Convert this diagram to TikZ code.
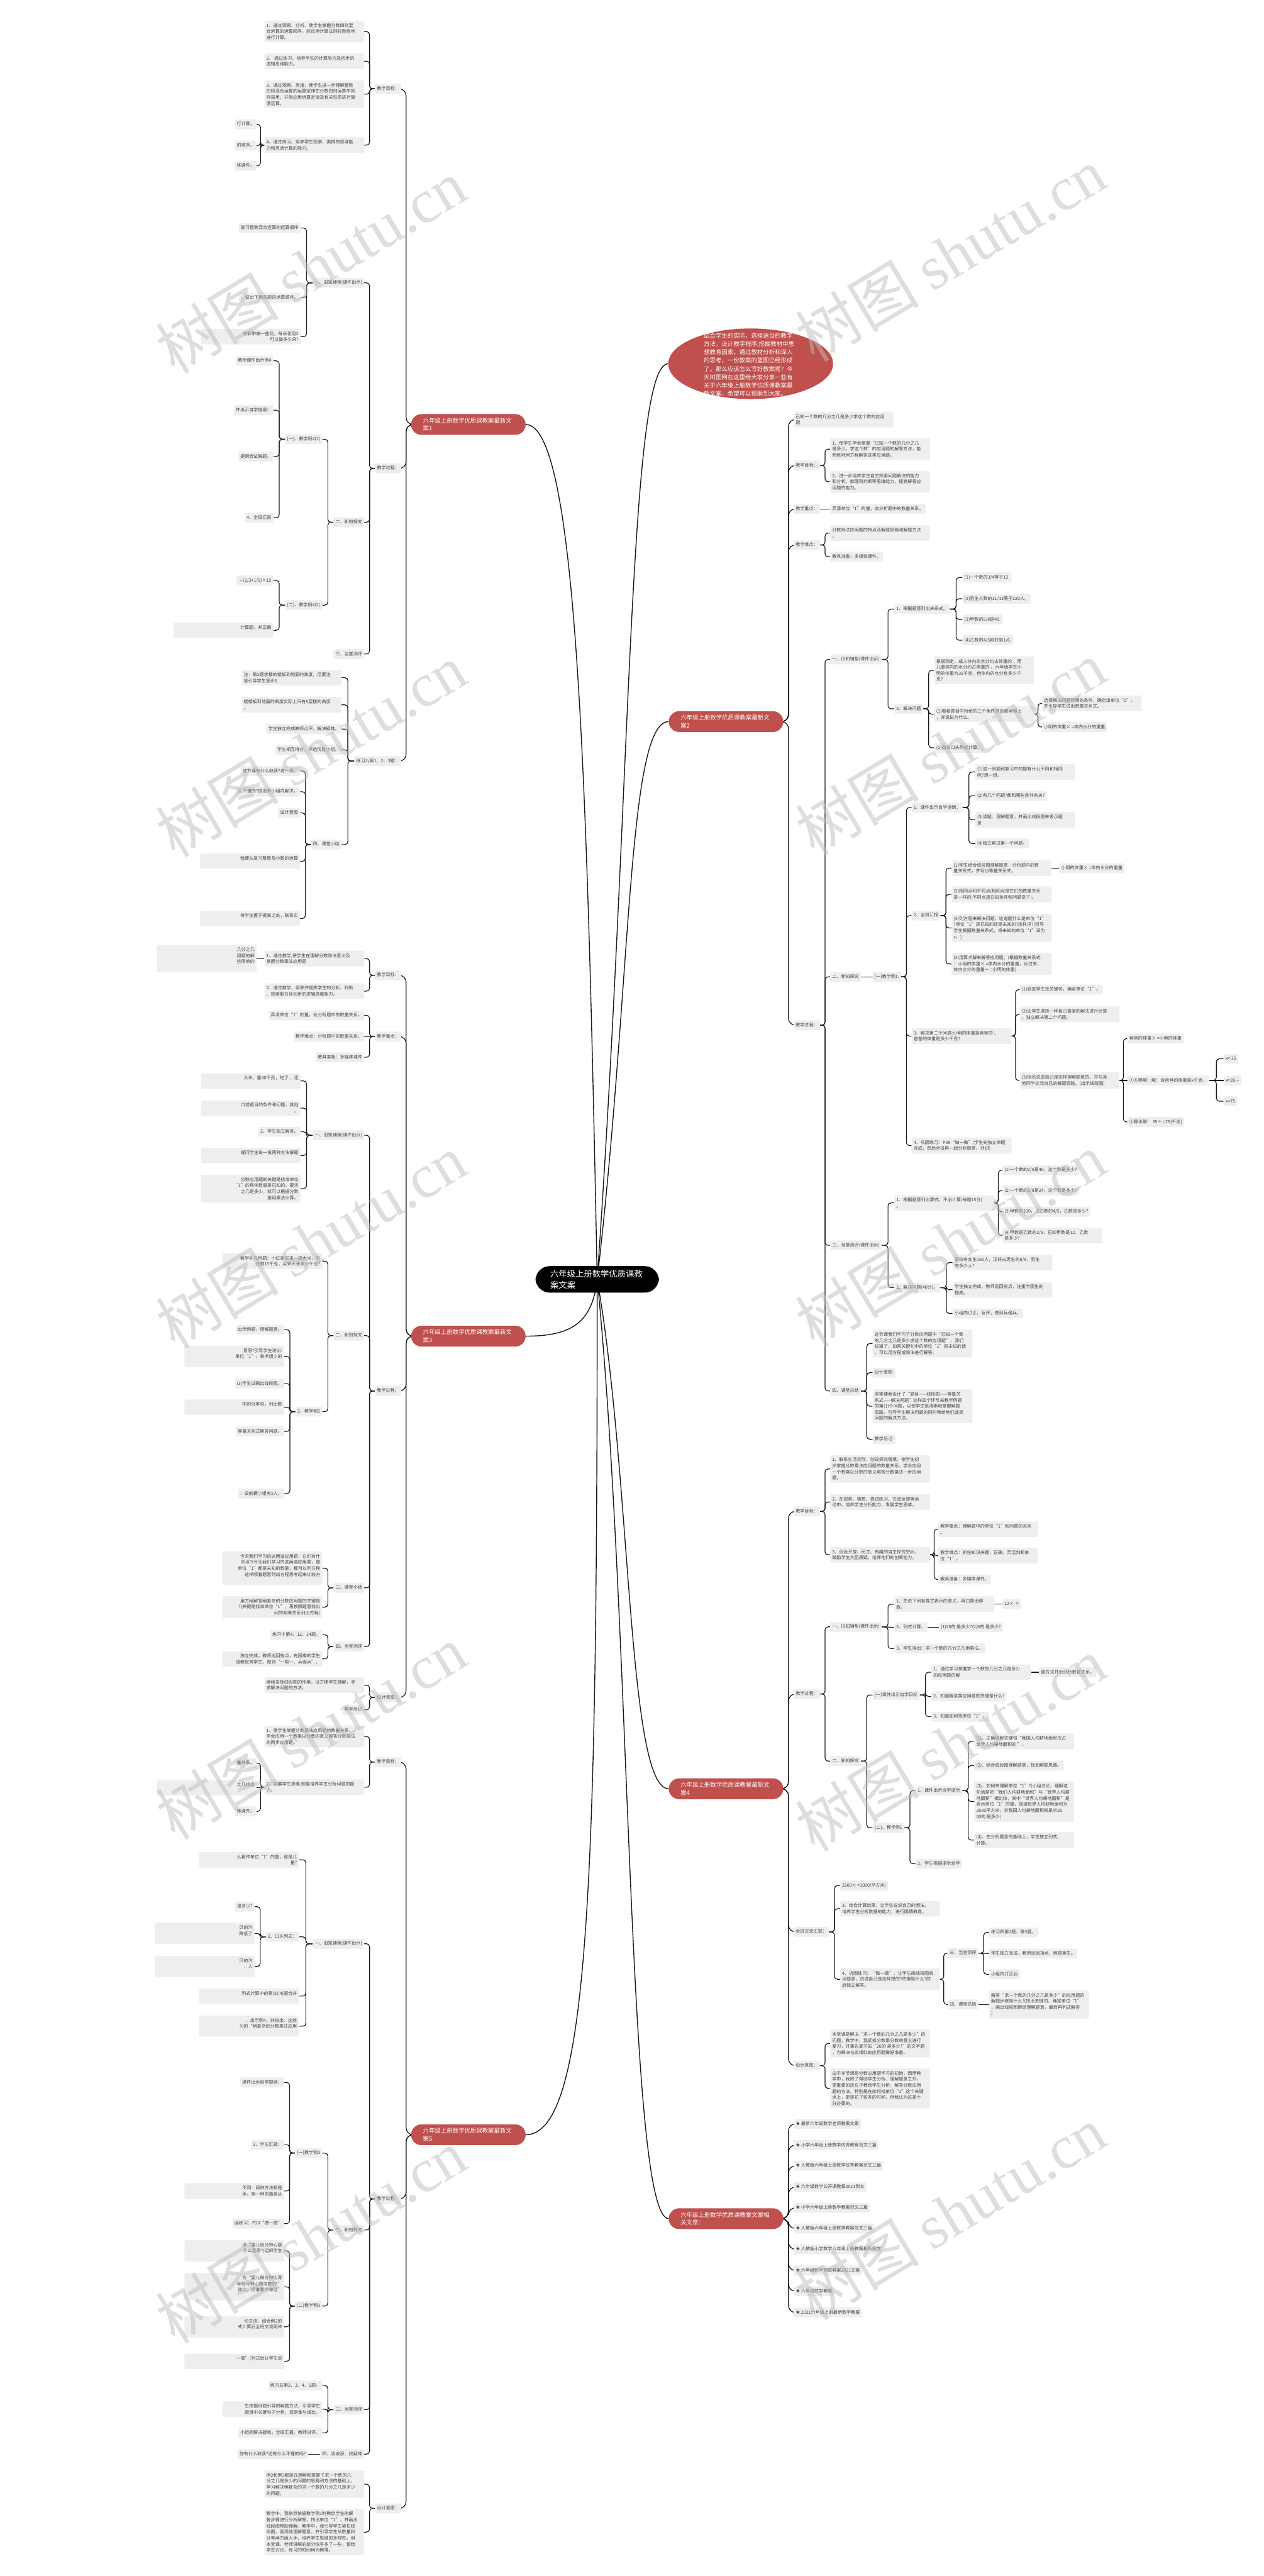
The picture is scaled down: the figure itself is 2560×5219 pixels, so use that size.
\documentclass[tikz,border=0pt]{standalone}
\usepackage{fontspec}
\setmainfont{Noto Sans CJK SC}
\newfontfamily\wmserif{Liberation Serif}
\XeTeXlinebreaklocale "zh"
\XeTeXlinebreakskip=0pt plus 1pt
\usetikzlibrary{calc,backgrounds,shapes.geometric}
\definecolor{boxgray}{RGB}{238,238,238}
\definecolor{txt}{RGB}{64,64,64}
\definecolor{redn}{RGB}{192,80,77}
\definecolor{linec}{RGB}{25,25,25}
\definecolor{wm}{RGB}{190,190,190}
\newcommand\fsz{\fontsize{9}{12.3}\selectfont}
\tikzset{
  base/.style={fill=boxgray, rounded corners=3pt, text=txt, font=\fsz, inner xsep=4pt, inner ysep=5.5pt},
  sn/.style={base, text height=7.2pt, text depth=1.8pt},
  wn/.style={base, text width=194pt, align=flush left},
  pw/.style={base, text width=194pt, align=flush right},
  L/.style={anchor=east}, R/.style={anchor=west},
  rednode/.style={fill=redn, text=white, rounded corners=21pt, font=\fontsize{12}{16}\selectfont, text width=184pt, align=flush left, inner xsep=24pt, inner ysep=7.5pt},
  ln/.style={draw=linec, line width=1.5pt, rounded corners=6pt},
  ln1/.style={draw=linec, line width=1.6pt, rounded corners=14pt},
  cl/.style={draw=linec, line width=1.8pt},
  lk/.style={to path={-- ($(\tikztostart)!0.5!(\tikztostart -| \tikztotarget)$) |- (\tikztotarget)}},
  wmk/.style={text=wm, opacity=0.5, rotate=31, inner sep=0pt},
}
\newcommand\eL[2]{\foreach \nd in {#2}{\draw[ln] (#1.west) to[lk] (\nd.east);}}
\newcommand\eR[2]{\foreach \nd in {#2}{\draw[ln] (#1.east) to[lk] (\nd.west);}}
\newcommand\eLa[2]{\foreach \nd in {#2}{\draw[ln1] (#1.west) to[lk] (\nd.east);}}
\newcommand\eRa[2]{\foreach \nd in {#2}{\draw[ln1] (#1.east) to[lk] (\nd.west);}}
\begin{document}
\begin{tikzpicture}[x=1pt,y=-1pt]
\useasboundingbox (0,0) rectangle (2560,5219);
% ---------- center and main branches
\node[fill=black,text=white,rounded corners=29pt,font=\fontsize{17}{22}\selectfont,text width=190pt,align=flush left,inner xsep=30pt,inner ysep=8pt] (C) at (1210,2592) {六年级上册数学优质课教\\案文案};
\node[rednode] (L1) at (949,860) {六年级上册数学优质课教案最新文案1};
\node[rednode] (L3) at (949,2707) {六年级上册数学优质课教案最新文案3};
\node[rednode] (L5) at (949,4325) {六年级上册数学优质课教案最新文案5};
\node[rednode] (R2) at (1471,1462) {六年级上册数学优质课教案最新文案2};
\node[rednode] (R4) at (1471,3624) {六年级上册数学优质课教案最新文案4};
\node[rednode] (Rel) at (1471,4495) {六年级上册数学优质课教案文案相关文章：};
\node[ellipse, fill=redn, minimum width=334pt, minimum height=143pt, inner sep=0pt] (intro) at (1521,737) {};
\node[text=white, font=\fontsize{12}{16.7}\selectfont, text width=186pt, align=flush left, inner sep=0pt] (introt) at (1519,739) {结合学生的实际，选择适当的教学\\方法，设计教学程序;挖掘教材中思\\想教育因素。通过教材分析和深入\\的思考，一份教案的蓝图已经形成\\了。那么应该怎么写好教案呢？今\\天树图网在这里给大家分享一些有\\关于六年级上册数学优质课教案最\\新文案，希望可以帮助到大家。};

% ---------- 案1
\node[sn,L] (a1) at (813,180) {教学目标：};
\node[wn,L] (a11) at (738,64) {1、通过观察、分析、使学生掌握分数四则混\\合运算的运算顺序，能应用计算法则较熟练地\\进行计算。};
\node[wn,L] (a12) at (738,124) {2、 通过练习，培养学生的计算能力及初步的\\逻辑思维能力。};
\node[wn,L] (a13) at (738,191) {3、通过观察、类推，使学生进一步理解整数\\四则混合运算的运算定律在分数四则运算中同\\样适用，并能应用运算定律及有关性质进行简\\便运算。};
\node[wn,L] (a14) at (738,294) {4、通过练习，培养学生观察、类推的思维能\\力和灵活计算的能力。};
\node[sn,L] (a141) at (520,252) {行计算。};
\node[sn,L] (a142) at (520,295) {的顺序。};
\node[sn,L] (a143) at (520,336) {体课件。};
\node[sn,L] (a2) at (813,949) {教学过程：};
\node[sn,L] (a21) at (738,573) {一、旧知铺垫(课件出示)};
\node[sn,L] (a211) at (609,462) {复习整数混合运算的运算顺序};
\node[sn,L] (a212) at (609,603) {、说出下面各题的运算顺序。};
\node[pw,L] (a213) at (609,682) {的彩带做一些花，每朵花用2\\可以做多少朵?};
\node[sn,L] (a22) at (738,1058) {二、新知探究};
\node[sn,L] (a221) at (653,890) {(一)、教学例4(1)};
\node[sn,L] (a2211) at (554,731) {教师课件出示例4};
\node[sn,L] (a2212) at (554,831) {件出示自学提纲：};
\node[sn,L] (a2213) at (554,925) {提纲尝试解题。};
\node[sn,L] (a2214) at (554,1049) {4、全班汇报};
\node[sn,L] (a222) at (653,1226) {(二)、教学例4(2)};
\node[sn,L] (a2221) at (554,1176) {÷(2/3+1/5)×15};
\node[pw,L] (a2222) at (554,1277) {计算题，并正确\\\mbox{}};
\node[sn,L] (a23) at (738,1325) {三、当堂测评};
\node[sn,L] (a3) at (813,1542) {练习九第1、2、3题：};
\node[wn,L] (a31) at (692,1373) {注：第2题求楼的楼板到地面的高度，但要注\\意引导学生意识6};
\node[wn,L] (a32) at (692,1428) {楼楼板到地面的高度实际上只有5层楼的高度\\。};
\node[sn,L] (a33) at (692,1477) {学生独立完成教师点评，解决疑难。};
\node[sn,L] (a34) at (692,1519) {学生相互得分，评选优胜小组。};
\node[sn,L] (a35) at (692,1711) {四、课堂小结};
\node[sn,L] (a351) at (608,1562) {这节课有什么收获?说一说。};
\node[sn,L] (a352) at (608,1604) {么不懂的?提出来小组内解决。};
\node[sn,L] (a353) at (608,1647) {设计意图};
\node[pw,L] (a354) at (608,1745) {我便从复习整数及小数的运算\\\mbox{}};
\node[pw,L] (a355) at (608,1861) {将学生置于提高之处，联系实\\\mbox{}};

% ---------- 案3
\node[sn,L] (b1) at (813,1976) {教学目标：};
\node[wn,L] (b11) at (738,1942) {1、通过教学,使学生在理解分数除法意义及\\掌握分数乘法应用题};
\node[pw,L] (b111) at (520,1942) {几分之几\\用题的解\\些简单的\\\mbox{}};
\node[wn,L] (b12) at (738,2008) {2、通过教学，培养并提高学生的分析、判断\\、探索能力及初步的逻辑思维能力。};
\node[sn,L] (b2) at (813,2100) {教学重点：};
\node[sn,L] (b21) at (738,2057) {弄清单位“1”的量，会分析题中的数量关系。};
\node[sn,L] (b22) at (738,2100) {教学难点：分析题中的数量关系。};
\node[sn,L] (b23) at (738,2142) {教具准备：多媒体课件};
\node[sn,L] (b3) at (813,2818) {教学过程：};
\node[sn,L] (b31) at (738,2300) {一、旧知铺垫(课件出示)};
\node[pw,L] (b311) at (609,2190) {大米，重40千克，吃了 ，还\\\mbox{}};
\node[pw,L] (b312) at (609,2245) {口述题目的条件和问题，其他\\。};
\node[sn,L] (b313) at (609,2293) {2、学生独立解答。};
\node[pw,L] (b314) at (609,2341) {提问学生说一说两种方法解题\\\mbox{}};
\node[pw,L] (b315) at (609,2408) {分数应用题的关键是找准单位\\“1”的具体数量是已知的。要求\\之几是多少，就可以根据分数\\接用乘法计算。};
\node[sn,L] (b32) at (738,2706) {二、新知探究};
\node[pw,L] (b321) at (653,2555) {教学补充例题：小红家买来一袋大米，吃\\还剩15千克，买来大米多少千克?};
\node[sn,L] (b322) at (653,2860) {2、教学例2};
\node[sn,L] (b3221) at (576,2694) {出示例题，理解题意。};
\node[pw,L] (b3222) at (576,2748) {意思?引导学生说出:\\单位“1”，美术组少的\\\mbox{}};
\node[sn,L] (b3223) at (576,2803) {(3)学生试画出线段图。};
\node[pw,L] (b3224) at (576,2851) {中的分率句，列出数\\\mbox{}};
\node[sn,L] (b3225) at (576,2900) {等量关系式解答问题。};
\node[sn,L] (b3226) at (576,3026) {：设航模小组有x人。};
\node[sn,L] (b33) at (738,3217) {三、课堂小结};
\node[pw,L] (b331) at (653,3177) {今天我们学习的这两道应用题，它们有什\\同点?(今天我们学习的这两道应用题，题\\单位“1”都是未知的数量，都可以列方程\\这样顺着题意列出方程思考起来比较方\\\mbox{}};
\node[pw,L] (b332) at (653,3256) {用方程解答稍复杂的分数应用题的关键是\\?(关键是找准单位“1”，再按照题意找出\\间的相等关系列出方程)};
\node[sn,L] (b34) at (738,3336) {四、当堂测评};
\node[sn,L] (b341) at (653,3312) {练习十第4、12、14题。};
\node[pw,L] (b342) at (653,3361) {独立完成，教师巡回指点，有困难的学生\\请教优秀学生，做到“一帮一、兵强兵”。};
\node[sn,L] (b4) at (813,3439) {设计意图：};
\node[wn,L] (b41) at (738,3414) {继续发挥线段图的作用，以方便学生理解，寻\\求解决问题的方法。};
\node[sn,L] (b42) at (738,3464) {教学后记};

% ---------- 案5
\node[sn,L] (c1) at (813,3570) {教学目标：};
\node[wn,L] (c11) at (738,3518) {1、使学生掌握分数乘法应用题的数量关系，\\学会应用一个数乘以分数的意义解答分数乘法\\的两步应用题。};
\node[wn,L] (c12) at (738,3621) {2、发展学生思维,侧重培养学生分析问题的能\\力。};
\node[sn,L] (c121) at (520,3572) {量关系。};
\node[pw,L] (c122) at (520,3622) {之几找出\\\mbox{}};
\node[sn,L] (c123) at (520,3670) {体课件。};
\node[sn,L] (c2) at (813,4455) {教学过程：};
\node[sn,L] (c21) at (738,3938) {一、旧知铺垫(课件出示)};
\node[pw,L] (c211) at (606,3768) {么看作单位“1”的量，谁是几\\量?};
\node[sn,L] (c212) at (606,3924) {2、口头列式：};
\node[sn,L] (c2121) at (516,3863) {是多少?};
\node[pw,L] (c2122) at (516,3917) {贝的汽\\降低了\\\mbox{}};
\node[pw,L] (c2123) at (516,3984) {贝的汽\\，人\\\mbox{}};
\node[pw,L] (c213) at (606,4044) {列式计算中的第(3)(4)题合并\\\mbox{}};
\node[pw,L] (c214) at (606,4105) {，出示例4，并指出：这就\\习的“稍复杂的分数乘法应用\\\mbox{}};
\node[sn,L] (c22) at (738,4518) {二、新知探究};
\node[sn,L] (c221) at (653,4362) {(一)教学例2};
\node[sn,L] (c2211) at (576,4219) {课件出示自学提纲：};
\node[sn,L] (c2212) at (576,4345) {2、学生汇报：};
\node[pw,L] (c2213) at (576,4439) {不同：两种方法都是\\手。第一种思路是从};
\node[sn,L] (c2214) at (576,4505) {固练习：P20“做一做”};
\node[sn,L] (c222) at (653,4672) {(二)教学例3};
\node[pw,L] (c2221) at (576,4560) {出“婴儿每分钟心跳\\什么意思?(组织学生\\\mbox{}};
\node[pw,L] (c2222) at (576,4633) {为“婴儿每分钟比青\\年每分钟心跳次数的 ”\\谁比，把谁看作单位”\\\mbox{}};
\node[pw,L] (c2223) at (576,4714) {论交流，结合例2的\\式计算后全班交流两种\\\mbox{}};
\node[pw,L] (c2224) at (576,4784) {一做”(列式后让学生说\\\mbox{}};
\node[sn,L] (c23) at (738,4882) {三、当堂测评};
\node[sn,L] (c231) at (653,4833) {练习五第2、3、4、5题。};
\node[pw,L] (c232) at (653,4881) {生依据例题引导的解题方法，引导学生\\题目中关键句子分析，找到谁与谁比。};
\node[sn,L] (c233) at (653,4929) {小组间解决疑难，全班汇报，教师讲评。};
\node[sn,L] (c24) at (738,4972) {四、谈收获、找疑难};
\node[sn,L] (c241) at (624,4972) {你有什么收获?还有什么不懂的吗?};
\node[sn,L] (c3) at (813,5082) {设计意图：};
\node[wn,L] (c31) at (738,5033) {例2和例3都是在理解和掌握了求一个数的几\\分之几是多少的问题的思路和方法的基础上，\\学习解决稍复杂的求一个数的几分之几是多少\\的问题。};
\node[wn,L] (c32) at (738,5130) {教学中，我依然依据教学例1时教给学生的解\\答步骤进行分析解答，找出单位“1”，并画出\\线段图帮助理解。教学中，我引导学生紧扣线\\段图，直观地理解题意，并引导学生从数量和\\分率两方面入手，培养学生思维的多样性。但\\本堂课，老师讲解的部分似乎多了一些，留给\\学生讨论、练习的时间稍为稀薄。};

% ---------- 案2
\node[wn,R] (r0) at (1608,850) {已知一个数的几分之几是多少求这个数的应用\\题};
\node[sn,R] (r1) at (1608,943) {教学目标：};
\node[wn,R] (r11) at (1682,910) {1、使学生学会掌握“已知一个数的几分之几\\是多少，求这个数”的应用题的解答方法，能\\熟练地列方程解答这类应用题。};
\node[wn,R] (r12) at (1682,976) {2、进一步培养学生自主探索问题解决的能力\\和分析、推理和判断等思维能力，提高解答应\\用题的能力。};
\node[sn,R] (r2) at (1608,1031) {教学重点：};
\node[sn,R] (r21) at (1682,1031) {弄清单位“1”的量，会分析题中的数量关系。};
\node[sn,R] (r3) at (1608,1104) {教学难点：};
\node[wn,R] (r31) at (1682,1080) {分数除法应用题的特点及解题思路和解题方法\\。};
\node[sn,R] (r32) at (1682,1128) {教具准备：多媒体课件。};
\node[sn,R] (r4) at (1608,2077) {教学过程：};
\node[sn,R] (r41) at (1682,1336) {一、旧知铺垫(课件出示)};
\node[sn,R] (r411) at (1812,1234) {1、根据题意列出关系式。};
\node[sn,R] (r4111) at (1950,1170) {(1)一个数的3/4等于12.};
\node[sn,R] (r4112) at (1950,1213) {(2)男生人数的11/12等于220人。};
\node[sn,R] (r4113) at (1950,1255) {(3)甲数的5/8是40.};
\node[sn,R] (r4114) at (1950,1297) {(4)乙数的4/5刚好是1/6.};
\node[sn,R] (r412) at (1812,1436) {2、解决问题};
\node[wn,R] (r4121) at (1893,1358) {根据测定，成人体内的水分约占体重的 ，而\\儿童体内的水分约占体重的 ，六年级学生小\\明的体重为35千克，他体内的水分有多少千\\克?};
\node[wn,R] (r4122) at (1893,1447) {(1)看看题目中所给的三个条件是否都用得上\\，并说说为什么。};
\node[wn,R] (r41221) at (2111,1425) {选择解决问题所需的条件，确定出单位“1”，\\并引导学生说出数量关系式。};
\node[sn,R] (r41222) at (2111,1473) {小明的体重× =体内水分的重量};
\node[sn,R] (r4123) at (1893,1515) {(2)指名口头列式计算。};
\node[sn,R] (r42) at (1682,1979) {二、新知探究};
\node[sn,R] (r421) at (1768,1979) {(一)教学例1.};
\node[sn,R] (r4211) at (1847,1636) {1、课件出示自学提纲：};
\node[wn,R] (p1) at (1976,1564) {(1)这一例题和复习中的题有什么不同和相同\\呢?想一想。};
\node[sn,R] (p2) at (1976,1612) {(2)有几个问题?都和哪些条件有关?};
\node[wn,R] (p3) at (1976,1661) {(3)读题、理解题意，并画出线段图来表示题\\意};
\node[sn,R] (p4) at (1976,1709) {(4)独立解决第一个问题。};
\node[sn,R] (r4212) at (1847,1855) {2、全班汇报};
\node[wn,R] (q1) at (1928,1759) {(1)学生结合线段图理解题意，分析题中的数\\量关系式，并写出等量关系式。};
\node[sn,R] (q1a) at (2146,1759) {小明的体重× =体内水分的重量};
\node[wn,R] (q2) at (1928,1812) {(2)相同点和不同点(相同点是它们的数量关系\\是一样的;不同点是已知条件和问题变了)。};
\node[wn,R] (q3) at (1928,1880) {(3)列方程来解决问题。这道题什么是单位“1”\\?单位“1”是已知的还是未知的?怎样求?(引导\\学生根据数量关系式，将未知的单位“1”设为\\x。)};
\node[wn,R] (q4) at (1928,1953) {(4)用算术解来解答应用题。(根据数量关系式\\：小明的体重× =体内水分的重量，反过来，\\体内水分的重量÷ =小明的体重)};
\node[wn,R] (r4213) at (1847,2099) {3、解决第二个问题:小明的体重是爸爸的 ，\\爸爸的体重是多少千克?};
\node[sn,R] (t1) at (2066,2005) {(1)启发学生找关键句，确定单位“1”。};
\node[wn,R] (t2) at (2066,2055) {(2)让学生选择一种自己喜爱的解法进行计算\\，独立解决第二个问题。};
\node[wn,R] (t3) at (2066,2189) {(3)指名说说自己是怎样理解题意的，并与其\\他同学交流自己的解题思路。(出示线段图)};
\node[sn,R] (t31) at (2284,2104) {爸爸的体重× =小明的体重};
\node[sn,R] (t32) at (2284,2189) {①方程解：解：设爸爸的体重是x千克。};
\node[sn,R] (t321) at (2479,2145) {x= 35};
\node[sn,R] (t322) at (2479,2189) {x=35÷};
\node[sn,R] (t323) at (2479,2231) {x=75};
\node[sn,R] (t33) at (2284,2273) {②算术解： 35÷ =75(千克)};
\node[wn,R] (r4214) at (1847,2321) {4、巩固练习：P38“做一做”(学生先独立审题\\完成，然后全班再一起分析题意、评讲)};
\node[sn,R] (r43) at (1682,2523) {三、当堂测评(课件出示)};
\node[wn,R] (u1) at (1812,2437) {1、根据题意列出算式，不必计算(每题15分)\\。};
\node[sn,R] (u11) at (2031,2371) {(1)一个数的2/5是40，这个数是多少?};
\node[sn,R] (u12) at (2031,2412) {(2)一个数的3/8是24，这个数是多少?};
\node[sn,R] (u13) at (2031,2455) {(3)甲数是100，占乙数的4/5，乙数是多少?};
\node[wn,R] (u14) at (2031,2503) {(4)甲数是乙数的2/3，已知甲数是12，乙数\\是多少?};
\node[sn,R] (u2) at (1812,2609) {2、解决问题(40分)。};
\node[wn,R] (u21) at (1930,2558) {某校有女生160人，正好占男生的8/9，男生\\有多少人?};
\node[wn,R] (u22) at (1930,2613) {学生独立完成，教师巡回指点，注重学困生的\\提高。};
\node[sn,R] (u23) at (1930,2661) {小组内订正、互评，做到兵强兵。};
\node[sn,R] (r44) at (1682,2818) {四、课堂总结};
\node[wn,R] (v1) at (1768,2722) {这节课我们学习了分数应用题中“已知一个数\\的几分之几是多少求这个数的应用题”，我们\\知道了，如果关键句中的单位“1”是未知的话\\，可以用方程或除法进行解答。};
\node[sn,R] (v2) at (1768,2781) {设计意图:};
\node[wn,R] (v3) at (1768,2849) {本堂课我设计了“题目——线段图——等量关\\系式——解决问题”这样四个环节来教学例题\\的第(1)个问题，以使学生很清晰地掌握解题\\思路，引导学生解决问题的同时教给他们此类\\问题的解决方法。};
\node[sn,R] (v4) at (1768,2916) {教学后记:};

% ---------- 案4
\node[sn,R] (g1) at (1608,3062) {教学目标：};
\node[wn,R] (g11) at (1682,2976) {1、联系生活实际，创设探究情境，使学生初\\步掌握分数乘法应用题的数量关系，学会应用\\一个数乘以分数的意义解答分数乘法一步应用\\题。};
\node[wn,R] (g12) at (1682,3043) {2、在观察、猜想、尝试练习、交流反馈等活\\动中，培养学生分析能力，发展学生思维。};
\node[wn,R] (g13) at (1682,3150) {3、创设开放、民主、有趣的自主探究空间，\\鼓励学生大胆质疑，培养他们的创新能力。};
\node[wn,R] (g131) at (1901,3098) {教学重点：理解题中的单位“1”和问题的关系\\。};
\node[wn,R] (g132) at (1901,3152) {教学难点：抓住知识关键，正确、灵活判断单\\位“1”。};
\node[sn,R] (g133) at (1901,3200) {教具准备：多媒体课件。};
\node[sn,R] (g2) at (1608,3432) {教学过程：};
\node[sn,R] (g21) at (1682,3296) {一、旧知铺垫(课件出示)};
\node[wn,R] (h1) at (1812,3250) {1、先说下列各算式表示的意义，再口算出得\\数。};
\node[sn,R] (h1a) at (2031,3250) {12× ×};
\node[sn,R] (h2) at (1812,3297) {2、列式计算。};
\node[sn,R] (h2a) at (1902,3297) {(1)20的 是多少?(2)6的 是多少?};
\node[sn,R] (h3) at (1812,3340) {3、学生得出：求一个数的几分之几用乘法。};
\node[sn,R] (g22) at (1682,3568) {二、新知探究};
\node[sn,R] (i1) at (1768,3434) {(一)课件出示自学目标};
\node[wn,R] (i11) at (1887,3388) {1、通过学习掌握求一个数的几分之几是多少\\的应用题的解};
\node[sn,R] (i11a) at (2105,3388) {题方法并会分析数量关系。};
\node[sn,R] (i12) at (1887,3437) {2、知道解这类应用题的关键是什么?};
\node[sn,R] (i13) at (1887,3478) {3、知道如何找单位“1”。};
\node[sn,R] (i2) at (1768,3703) {(二)、教学例1};
\node[sn,R] (i21) at (1855,3628) {1、课件出示自学提示};
\node[wn,R] (k1) at (1974,3528) {(1)、正确理解关键句“我国人均耕地面积仅占\\世界人均耕地面积的 ”。};
\node[sn,R] (k2) at (1974,3577) {(2)、结合线段图理解题意，找到解题思路。};
\node[wn,R] (k3) at (1974,3650) {(3)、如何来理解单位“1”?(小组讨论，理解这\\句话是把“我们人均耕地面积”与“世界人均耕\\地面积”相比较，其中“世界人均耕地面积”是\\表示单位“1”的量，知道世界人均耕地面积为\\2500平方米，求我国人均耕地面积就是求25\\00的 是多少)};
\node[wn,R] (k4) at (1974,3728) {(4)、在分析题意的基础上，学生独立列式、\\计算。};
\node[sn,R] (i22) at (1855,3776) {2、学生根据提示自学};
\node[sn,R] (g3) at (1608,3914) {全班交流汇报：};
\node[sn,R] (g31) at (1702,3820) {2500× =1000(平方米)};
\node[wn,R] (g32) at (1702,3867) {3、结合计算结果，让学生说说自己的想法，\\培养学生分析数据的能力，进行国情教育。};
\node[wn,R] (g33) at (1702,4010) {4、巩固练习：“做一做”，让学生画线段图表\\示题意，说说自己是怎样想的?依据是什么?然\\后独立解答。};
\node[sn,R] (j1) at (1920,3957) {三、当堂测评};
\node[sn,R] (j11) at (2004,3915) {练习四第2题、第3题。};
\node[sn,R] (j12) at (2004,3958) {学生独立完成，教师巡回指点，照顾差生。};
\node[sn,R] (j13) at (2004,4000) {小组内订正后};
\node[sn,R] (j2) at (1920,4061) {四、课堂总结};
\node[wn,R] (j21) at (2004,4061) {解答“求一个数的几分之几是多少”的应用题的\\解题步骤是什么?(找出关键句、确定单位“1”\\，画出线段图帮助理解题意，最后再列式解答\\)};
\node[sn,R] (g4) at (1608,4185) {设计意图：};
\node[wn,R] (g41) at (1682,4140) {本堂课是解决“求一个数的几分之几是多少”的\\问题，教学中，我紧扣分数乘分数的意义进行\\复习，并事先复习如“20的 是多少?”的文字题\\，为解决与此相似的应用题做好准备。};
\node[wn,R] (g42) at (1682,4231) {由于本节课是分数应用题学习的初始，因而教\\学中，我除了帮助学生分析、理解题意之外，\\更重要的还在于教给学生分析、解答分数应用\\题的方法，特别是在如何找单位“1”这个关键\\点上，更是花了较多的时间，但我认为这是十\\分必要的。};

% ---------- related
\node[sn,R] (s1) at (1608,4303) {★ 最新六年级数学老师教案文案};
\node[sn,R] (s2) at (1608,4346) {★ 小学六年级上册数学优秀教案范文三篇};
\node[sn,R] (s3) at (1608,4388) {★ 人教版六年级上册数学优秀教案范文三篇};
\node[sn,R] (s4) at (1608,4431) {★ 六年级数学公开课教案2021例文};
\node[sn,R] (s5) at (1608,4473) {★ 小学六年级上册数学教案范文三篇};
\node[sn,R] (s6) at (1608,4515) {★ 人教版六年级上册数学教案范文三篇};
\node[sn,R] (s7) at (1608,4557) {★ 人教版小学数学六年级上册教案最新例文};
\node[sn,R] (s8) at (1608,4600) {★ 六年级数学简算教案2021文案};
\node[sn,R] (s9) at (1608,4642) {★ 六年级数学教案};
\node[sn,R] (s10) at (1608,4685) {★ 2021六年级上册最新数学教案};

% ---------- connectors
\begin{pgfonlayer}{background}
\fill[white] (0,0) rectangle (2560,5219);
\draw[cl] (C.center) .. controls +(-20,-1000) and +(105,0) .. (L1.east);
\draw[cl] (C.center) .. controls +(-10,90) and +(90,0) .. (L3.east);
\draw[cl] (C.center) .. controls +(0,1200) and +(130,0) .. (L5.east);
\draw[cl] (C.center) .. controls +(70,-1000) and +(-80,0) .. (intro.west);
\draw[cl] (C.center) .. controls +(70,-600) and +(-84,0) .. (R2.west);
\draw[cl] (C.center) .. controls +(70,400) and +(-84,0) .. (R4.west);
\draw[cl] (C.center) .. controls +(70,700) and +(-84,0) .. (Rel.west);
\eLa{L1}{a1,a2,a3}
\eL{a1}{a11,a12,a13,a14}
\eL{a14}{a141,a142,a143}
\eL{a2}{a21,a22,a23}
\eL{a21}{a211,a212,a213}
\eL{a22}{a221,a222}
\eL{a221}{a2211,a2212,a2213,a2214}
\eL{a222}{a2221,a2222}
\eL{a3}{a31,a32,a33,a34,a35}
\eL{a35}{a351,a352,a353,a354,a355}
\eLa{L3}{b1,b2,b3,b4}
\eL{b1}{b12}
\draw[ln] (b1.west) to[lk] (b11.east);
\draw[ln] (b11.west) -- (b111.east);
\eL{b2}{b21,b23}
\draw[ln] (b2.west) -- (b22.east);
\eL{b3}{b31,b32,b33,b34}
\eL{b31}{b311,b312,b313,b314,b315}
\eL{b32}{b321,b322}
\eL{b322}{b3221,b3222,b3223,b3224,b3225,b3226}
\eL{b33}{b331,b332}
\eL{b34}{b341,b342}
\eL{b4}{b41,b42}
\eLa{L5}{c1,c2,c3}
\eL{c1}{c11,c12}
\eL{c12}{c121,c123}
\draw[ln] (c12.west) -- (c122.east);
\eL{c2}{c21,c22,c23,c24}
\eL{c21}{c211,c212,c213,c214}
\eL{c212}{c2121,c2122,c2123}
\eL{c22}{c221,c222}
\eL{c221}{c2211,c2212,c2213,c2214}
\eL{c222}{c2221,c2222,c2223,c2224}
\eL{c23}{c231,c232,c233}
\draw[ln] (c24.west) -- (c241.east);
\eL{c3}{c31,c32}
\eRa{R2}{r0,r1,r2,r3,r4}
\eR{r1}{r11,r12}
\draw[ln] (r2.east) -- (r21.west);
\eR{r3}{r31,r32}
\eR{r4}{r41,r42,r43,r44}
\eR{r41}{r411,r412}
\eR{r411}{r4111,r4112,r4113,r4114}
\eR{r412}{r4121,r4122,r4123}
\eR{r4122}{r41221,r41222}
\draw[ln] (r42.east) -- (r421.west);
\eR{r421}{r4211,r4212,r4213,r4214}
\eR{r4211}{p1,p2,p3,p4}
\eR{r4212}{q1,q2,q3,q4}
\draw[ln] (q1.east) -- (q1a.west);
\eR{r4213}{t1,t2,t3}
\eR{t3}{t31,t33}
\draw[ln] (t3.east) -- (t32.west);
\eR{t32}{t321,t323}
\draw[ln] (t32.east) -- (t322.west);
\eR{r43}{u1,u2}
\eR{u1}{u11,u12,u13,u14}
\eR{u2}{u21,u22,u23}
\eR{r44}{v1,v2,v3,v4}
\eRa{R4}{g1,g2,g3,g4}
\eR{g1}{g11,g12,g13}
\eR{g13}{g131,g132,g133}
\eR{g2}{g21,g22}
\eR{g21}{h1,h3}
\draw[ln] (g21.east) -- (h2.west);
\draw[ln] (h1.east) -- (h1a.west);
\draw[ln] (h2.east) -- (h2a.west);
\eR{g22}{i1,i2}
\eR{i1}{i11,i12,i13}
\draw[ln] (i11.east) -- (i11a.west);
\eR{i2}{i21,i22}
\eR{i21}{k1,k2,k3,k4}
\eR{g3}{g31,g32,g33}
\eR{g33}{j1,j2}
\eR{j1}{j11,j13}
\draw[ln] (j1.east) -- (j12.west);
\draw[ln] (j2.east) -- (j21.west);
\eR{g4}{g41,g42}
\eRa{Rel}{s1,s2,s3,s4,s5,s6,s7,s8,s9,s10}
\end{pgfonlayer}

% ---------- watermarks
\foreach \wy in {540,1520,2515,3510,4530}{
  \node[wmk] at (630,\wy) {\fontsize{125}{125}\selectfont 树图 {\wmserif shutu.cn}};}
\foreach \wy in {515,1515,2512,3534,4483}{
  \node[wmk] at (1926,\wy) {\fontsize{125}{125}\selectfont 树图 {\wmserif shutu.cn}};}
\end{tikzpicture}
\end{document}
